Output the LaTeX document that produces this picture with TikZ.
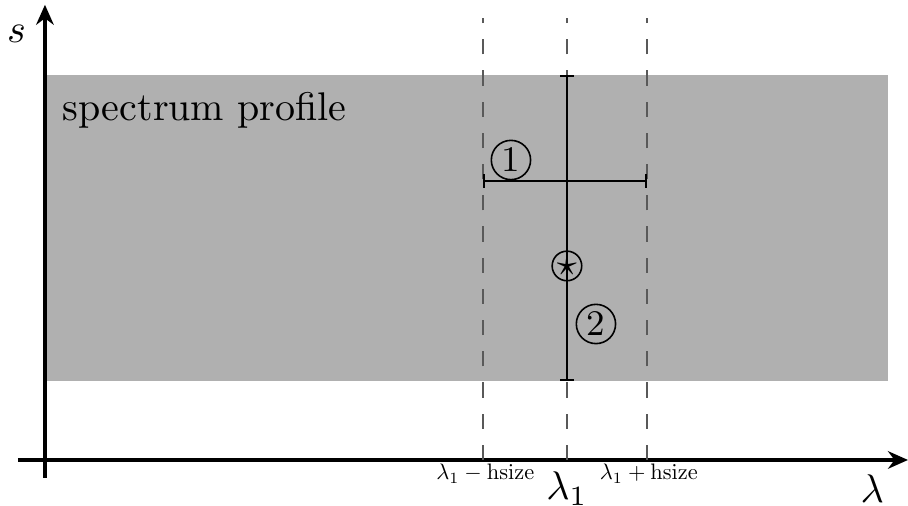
\documentclass[tikz,border=0pt]{standalone}
\usepackage{amsmath}
\usepackage{amssymb}
\usepackage{xcolor}
\usepackage{tikz}
\usetikzlibrary{arrows.meta}

\begin{document}
\begin{tikzpicture}[scale=1.0]
  \useasboundingbox (-0.395,-0.404) rectangle (7.584,4.042);
  % perfil do espectro
  \fill[black!31] (0,0.694) rectangle (7.41,3.383);
  \node[anchor=north west, inner sep=0pt] (perfil) at (0.15,3.24) {spectrum profile};
  % eixos
  \draw[thick, -{Stealth[length=5pt, width=4.4pt]}] (-0.237,0) -- (7.584,0);
  \draw[thick, -{Stealth[length=5pt, width=4.4pt]}] (0,-0.158) -- (0,4.0);
  \node (eixoS) at (-0.25,3.74) {$s$};
  \node (eixoL) at (7.27,-0.25) {$\lambda$};
  % janela em lambda
  \draw[semithick, black!65, dash pattern=on 3.8pt off 4pt] (3.849,0) -- (3.849,3.884);
  \draw[semithick, black!65, dash pattern=on 3.8pt off 4pt] (4.587,0) -- (4.587,3.884);
  \draw[semithick, black!65, dash pattern=on 3.8pt off 4pt] (5.290,0) -- (5.290,3.884);
  \node[scale=0.56] (lmenos) at (3.87,-0.12) {$\lambda_1-\mathrm{hsize}$};
  \node[scale=0.56] (lmais) at (5.307,-0.12) {$\lambda_1+\mathrm{hsize}$};
  \node (lum) at (4.587,-0.255) {$\lambda_1$};
  % cortes 1 e 2
  \draw[semithick, {Bar[width=3.4pt]}-{Bar[width=3.4pt]}] (3.849,2.452) -- (5.290,2.452);
  \draw[semithick, {Bar[width=3.4pt]}-{Bar[width=3.4pt]}] (4.587,0.694) -- (4.587,3.383);
  \node[draw, circle, inner sep=0.8pt, font=\small] (um) at (4.095,2.636) {1};
  \node[draw, circle, inner sep=0.8pt, font=\small] (dois) at (4.842,1.195) {2};
  % centro
  \node[draw, circle, inner sep=0.2pt] (centro) at (4.587,1.705) {$\star$};
\end{tikzpicture}
\end{document}
